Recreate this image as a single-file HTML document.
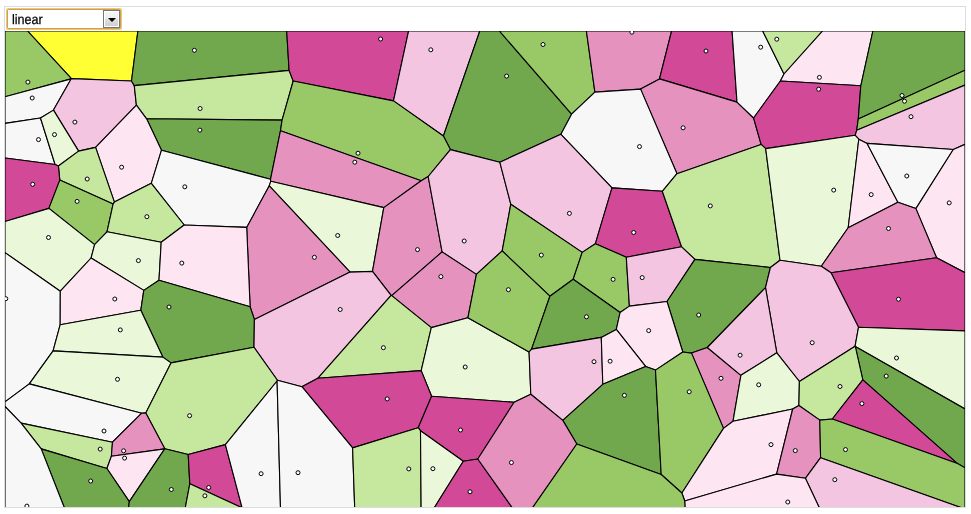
<!DOCTYPE html>
<html>
<head>
<meta charset="utf-8">
<title>Voronoi</title>
<style>
html,body{margin:0;padding:0;background:#fff;}
body{width:971px;height:514px;position:relative;overflow:hidden;font-family:"Liberation Sans",sans-serif;}
#frame{position:absolute;left:4px;top:6px;width:960px;height:500px;border:1px solid #dcdcdc;box-sizing:content-box;overflow:hidden;}
#sel{z-index:2;position:absolute;left:7px;top:9px;width:112px;height:18px;border:1px solid #cda057;border-radius:1.5px;box-shadow:0 0 0 1px #efc478;background:#fff;box-sizing:content-box;}
#sel span{position:absolute;left:4px;top:2px;font-size:13.7px;line-height:16px;color:#000;white-space:nowrap;transform:scaleX(0.92);transform-origin:0 0;text-rendering:geometricPrecision;-webkit-text-stroke:0.25px #000;}
#btn{position:absolute;left:95px;top:0px;width:15px;height:16px;border:1px solid #767676;background:linear-gradient(#f7f7f7 0%,#ececec 50%,#dedede 50%,#d0d0d0 100%);box-shadow:inset 0 0 0 1px #fff;}
#btn i{position:absolute;left:3.5px;top:6.7px;width:0;height:0;border-left:4px solid transparent;border-right:4px solid transparent;border-top:4.6px solid #000;}
svg{position:absolute;left:0px;top:24px;}
svg path{stroke:#000;stroke-width:1.1px;stroke-linejoin:round;}
svg circle{fill:#fff;stroke:#000;stroke-width:1px;}
</style>
</head>
<body>
<div id="sel"><span>linear</span><div id="btn"><i></i></div></div>
<div id="frame">
<svg width="960" height="500" viewBox="5 31 960 500">
<g>
<path fill="#ffff33" d="M131.5,81.0L71.4,78.6L27.5,31.0L137.9,31.0Z"/>
<path fill="#99c967" d="M5.0,96.8L71.1,78.9L71.4,78.6L27.5,31.0L5.0,31.0Z"/>
<path fill="#f7f7f7" d="M53.5,110.1L40.5,118.0L5.0,123.4L5.0,96.8L71.1,78.9Z"/>
<path fill="#f4c5e1" d="M134.3,85.6L136.4,105.1L95.6,147.4L78.6,151.1L53.5,110.1L71.1,78.9L71.4,78.6L131.5,81.0Z"/>
<path fill="#71a84d" d="M289.1,70.4L134.3,85.6L131.5,81.0L137.9,31.0L286.7,31.0Z"/>
<path fill="#c6e79e" d="M134.3,85.6L136.4,105.1L146.6,118.8L282.1,120.1L293.2,81.0L289.1,70.4Z"/>
<path fill="#71a84d" d="M270.5,179.3L161.5,150.2L146.6,118.8L282.1,120.1L280.5,130.7Z"/>
<path fill="#d14997" d="M286.7,31.0L408.6,31.0L393.5,100.9L293.2,81.0L289.1,70.4Z"/>
<path fill="#f4c5e1" d="M408.6,31.0L393.5,100.9L443.4,136.0L479.8,31.0Z"/>
<path fill="#71a84d" d="M571.6,114.2L560.9,134.3L499.8,162.2L450.4,149.6L443.4,136.0L479.8,31.0L499.4,31.0Z"/>
<path fill="#99c967" d="M586.4,31.0L499.4,31.0L571.6,114.2L594.9,92.1Z"/>
<path fill="#e592be" d="M659.5,78.9L640.6,89.1L594.9,92.1L586.4,31.0L671.6,31.0Z"/>
<path fill="#d14997" d="M737.0,102.1L659.5,78.9L671.6,31.0L732.1,31.0Z"/>
<path fill="#e592be" d="M659.5,78.9L737.0,102.1L753.6,118.0L761.1,144.4L677.0,173.7L640.6,89.1Z"/>
<path fill="#f7f7f7" d="M762.7,31.0L784.0,74.0L780.4,81.0L753.6,118.0L737.0,102.1L732.1,31.0Z"/>
<path fill="#c6e79e" d="M784.0,74.0L762.7,31.0L822.6,31.0Z"/>
<path fill="#fde6f2" d="M784.0,74.0L780.4,81.0L860.8,85.8L872.9,31.0L822.6,31.0Z"/>
<path fill="#d14997" d="M855.2,135.3L856.7,130.3L858.3,118.9L860.8,85.8L780.4,81.0L753.6,118.0L761.1,144.4L765.7,148.6Z"/>
<path fill="#71a84d" d="M872.9,31.0L860.8,85.8L858.3,118.9L965.0,70.2L965.0,31.0Z"/>
<path fill="#99c967" d="M965.0,85.1L856.7,130.3L858.3,118.9L965.0,70.2Z"/>
<path fill="#f4c5e1" d="M856.7,130.3L855.2,135.3L858.8,139.2L867.1,143.4L953.3,149.5L965.0,144.3L965.0,85.1Z"/>
<path fill="#f7f7f7" d="M40.5,118.0L5.0,123.4L5.0,158.0L55.1,164.5Z"/>
<path fill="#ebf7d9" d="M53.5,110.1L40.5,118.0L55.1,164.5L58.4,166.0L78.6,151.1Z"/>
<path fill="#fde6f2" d="M136.4,105.1L95.6,147.4L114.4,202.1L151.3,183.3L161.5,150.2L146.6,118.8Z"/>
<path fill="#c6e79e" d="M59.8,180.1L58.4,166.0L78.6,151.1L95.6,147.4L114.4,202.1L113.1,204.1Z"/>
<path fill="#d14997" d="M59.8,180.1L58.4,166.0L55.1,164.5L5.0,158.0L5.0,221.5L48.9,208.4Z"/>
<path fill="#99c967" d="M107.0,231.8L94.6,244.6L48.9,208.4L59.8,180.1L113.1,204.1Z"/>
<path fill="#f7f7f7" d="M270.5,179.3L270.8,181.2L269.3,185.8L246.7,227.4L184.2,225.0L151.3,183.3L161.5,150.2Z"/>
<path fill="#c6e79e" d="M113.1,204.1L107.0,231.8L161.2,242.2L184.2,225.0L151.3,183.3L114.4,202.1Z"/>
<path fill="#ebf7d9" d="M60.3,291.2L91.1,258.0L94.6,244.6L48.9,208.4L5.0,221.5L5.0,252.6Z"/>
<path fill="#99c967" d="M293.2,81.0L393.5,100.9L443.4,136.0L450.4,149.6L428.2,176.5L421.2,180.7L280.5,130.7L282.1,120.1Z"/>
<path fill="#e592be" d="M270.8,181.2L270.5,179.3L280.5,130.7L421.2,180.7L383.8,207.6Z"/>
<path fill="#ebf7d9" d="M269.3,185.8L350.1,272.1L372.5,271.4L383.8,207.6L270.8,181.2Z"/>
<path fill="#e592be" d="M254.4,319.4L250.1,306.8L246.7,227.4L269.3,185.8L350.1,272.1Z"/>
<path fill="#e592be" d="M391.1,295.4L391.7,295.6L442.1,251.9L428.2,176.5L421.2,180.7L383.8,207.6L372.5,271.4Z"/>
<path fill="#f4c5e1" d="M428.2,176.5L442.1,251.9L476.4,274.4L502.2,250.9L510.8,204.2L499.8,162.2L450.4,149.6Z"/>
<path fill="#f7f7f7" d="M677.0,173.7L640.6,89.1L594.9,92.1L571.6,114.2L560.9,134.3L612.0,187.9L662.3,191.3Z"/>
<path fill="#f4c5e1" d="M582.2,252.4L510.8,204.2L499.8,162.2L560.9,134.3L612.0,187.9L595.4,243.7Z"/>
<path fill="#d14997" d="M626.3,257.2L681.6,246.8L662.3,191.3L612.0,187.9L595.4,243.7Z"/>
<path fill="#c6e79e" d="M761.1,144.4L677.0,173.7L662.3,191.3L681.6,246.8L694.9,259.4L770.4,267.5L780.0,260.3L765.7,148.6Z"/>
<path fill="#99c967" d="M573.2,279.2L549.9,296.2L502.2,250.9L510.8,204.2L582.2,252.4Z"/>
<path fill="#ebf7d9" d="M821.3,266.2L848.2,227.7L858.8,139.2L855.2,135.3L765.7,148.6L780.0,260.3Z"/>
<path fill="#fde6f2" d="M867.1,143.4L897.9,202.3L848.2,227.7L858.8,139.2Z"/>
<path fill="#f7f7f7" d="M867.1,143.4L953.3,149.5L915.9,208.6L897.9,202.3Z"/>
<path fill="#fde6f2" d="M965.0,272.7L965.0,144.3L953.3,149.5L915.9,208.6L936.6,257.8Z"/>
<path fill="#e592be" d="M821.3,266.2L848.2,227.7L897.9,202.3L915.9,208.6L936.6,257.8L831.0,272.7Z"/>
<path fill="#ebf7d9" d="M91.1,258.0L143.8,290.4L159.0,280.3L161.2,242.2L107.0,231.8L94.6,244.6Z"/>
<path fill="#fde6f2" d="M246.7,227.4L250.1,306.8L159.0,280.3L161.2,242.2L184.2,225.0Z"/>
<path fill="#f7f7f7" d="M53.1,350.9L29.3,383.9L5.0,401.9L5.0,252.6L60.3,291.2L60.2,324.7Z"/>
<path fill="#fde6f2" d="M91.1,258.0L143.8,290.4L140.8,310.3L60.2,324.7L60.3,291.2Z"/>
<path fill="#71a84d" d="M162.8,357.1L171.0,362.9L254.0,347.2L254.4,319.4L250.1,306.8L159.0,280.3L143.8,290.4L140.8,310.3Z"/>
<path fill="#ebf7d9" d="M53.1,350.9L162.8,357.1L140.8,310.3L60.2,324.7Z"/>
<path fill="#ebf7d9" d="M171.0,362.9L162.8,357.1L53.1,350.9L29.3,383.9L141.7,413.2L145.8,412.9Z"/>
<path fill="#f4c5e1" d="M317.8,378.3L391.1,295.4L372.5,271.4L350.1,272.1L254.4,319.4L254.0,347.2L277.4,380.3L301.9,386.7Z"/>
<path fill="#e592be" d="M467.9,317.8L476.4,274.4L442.1,251.9L391.7,295.6L431.3,327.6Z"/>
<path fill="#c6e79e" d="M421.2,370.6L431.3,327.6L391.7,295.6L391.1,295.4L317.8,378.3Z"/>
<path fill="#ebf7d9" d="M421.2,370.6L431.3,327.6L467.9,317.8L529.1,352.0L530.8,394.2L514.1,402.3L431.6,396.2Z"/>
<path fill="#99c967" d="M502.2,250.9L549.9,296.2L531.6,349.1L529.1,352.0L467.9,317.8L476.4,274.4Z"/>
<path fill="#99c967" d="M582.2,252.4L573.2,279.2L620.1,312.5L629.4,306.1L626.3,257.2L595.4,243.7Z"/>
<path fill="#f4c5e1" d="M667.0,301.5L629.4,306.1L626.3,257.2L681.6,246.8L694.9,259.4Z"/>
<path fill="#71a84d" d="M573.2,279.2L620.1,312.5L616.3,329.4L601.3,337.4L531.6,349.1L549.9,296.2Z"/>
<path fill="#71a84d" d="M707.3,347.5L691.5,353.1L682.8,352.0L667.0,301.5L694.9,259.4L770.4,267.5L765.5,287.6Z"/>
<path fill="#fde6f2" d="M667.0,301.5L629.4,306.1L620.1,312.5L616.3,329.4L645.6,366.4L655.5,370.1L682.8,352.0Z"/>
<path fill="#f4c5e1" d="M529.1,352.0L531.6,349.1L601.3,337.4L602.8,384.3L562.8,420.4L530.8,394.2Z"/>
<path fill="#fde6f2" d="M616.3,329.4L645.6,366.4L602.8,384.3L601.3,337.4Z"/>
<path fill="#e592be" d="M740.9,375.3L707.3,347.5L691.5,353.1L723.5,428.4L733.0,421.3Z"/>
<path fill="#d14997" d="M965.0,272.7L936.6,257.8L831.0,272.7L858.5,327.3L965.0,330.9Z"/>
<path fill="#f4c5e1" d="M831.0,272.7L858.5,327.3L855.1,346.2L799.4,381.5L776.8,352.8L765.5,287.6L770.4,267.5L780.0,260.3L821.3,266.2Z"/>
<path fill="#f4c5e1" d="M765.5,287.6L707.3,347.5L740.9,375.3L776.8,352.8Z"/>
<path fill="#ebf7d9" d="M855.1,346.2L855.3,346.5L965.0,409.0L965.0,330.9L858.5,327.3Z"/>
<path fill="#71a84d" d="M965.0,409.0L965.0,467.8L957.5,463.6L862.8,379.9L855.3,346.5Z"/>
<path fill="#ebf7d9" d="M733.0,421.3L740.9,375.3L776.8,352.8L799.4,381.5L798.9,405.5L792.7,409.0Z"/>
<path fill="#c6e79e" d="M855.3,346.5L855.1,346.2L799.4,381.5L798.9,405.5L819.8,420.1L832.3,419.0L862.8,379.9Z"/>
<path fill="#c6e79e" d="M171.0,362.9L145.8,412.9L164.8,448.7L188.2,454.5L225.4,444.6L277.1,381.0L277.4,380.3L254.0,347.2Z"/>
<path fill="#f7f7f7" d="M5.0,401.9L5.0,406.5L21.1,423.1L112.5,442.2L141.7,413.2L29.3,383.9Z"/>
<path fill="#c6e79e" d="M111.4,456.2L106.9,468.5L41.2,448.9L21.1,423.1L112.5,442.2Z"/>
<path fill="#e592be" d="M112.5,442.2L111.4,456.2L164.7,448.9L164.8,448.7L145.8,412.9L141.7,413.2Z"/>
<path fill="#fde6f2" d="M129.3,501.6L106.9,468.5L111.4,456.2L164.7,448.9Z"/>
<path fill="#71a84d" d="M129.3,501.6L126.2,531.0L73.5,531.0L41.2,448.9L106.9,468.5Z"/>
<path fill="#71a84d" d="M129.3,501.6L126.2,531.0L180.9,531.0L189.8,483.8L188.2,454.5L164.8,448.7L164.7,448.9Z"/>
<path fill="#d14997" d="M242.1,507.8L225.4,444.6L188.2,454.5L189.8,483.8Z"/>
<path fill="#c6e79e" d="M251.2,531.0L242.1,507.8L189.8,483.8L180.9,531.0Z"/>
<path fill="#f7f7f7" d="M41.2,448.9L73.5,531.0L5.0,531.0L5.0,406.5L21.1,423.1Z"/>
<path fill="#d14997" d="M421.2,370.6L431.6,396.2L418.2,427.7L352.6,447.9L301.9,386.7L317.8,378.3Z"/>
<path fill="#d14997" d="M463.3,461.2L477.8,459.0L514.1,402.3L431.6,396.2L418.2,427.7L420.5,430.7Z"/>
<path fill="#f7f7f7" d="M251.2,531.0L242.1,507.8L225.4,444.6L277.1,381.0L281.1,531.0Z"/>
<path fill="#f7f7f7" d="M352.6,447.9L355.5,531.0L281.1,531.0L277.1,381.0L277.4,380.3L301.9,386.7Z"/>
<path fill="#c6e79e" d="M418.2,427.7L420.5,430.7L421.3,528.6L420.4,531.0L355.5,531.0L352.6,447.9Z"/>
<path fill="#ebf7d9" d="M421.3,528.6L420.5,430.7L463.3,461.2Z"/>
<path fill="#d14997" d="M520.9,531.0L522.5,522.2L477.8,459.0L463.3,461.2L421.3,528.6L420.4,531.0Z"/>
<path fill="#71a84d" d="M602.8,384.3L645.6,366.4L655.5,370.1L661.2,474.5L576.8,444.0L562.8,420.4Z"/>
<path fill="#99c967" d="M691.5,353.1L682.8,352.0L655.5,370.1L661.2,474.5L681.9,493.0L723.5,428.4Z"/>
<path fill="#e592be" d="M562.8,420.4L530.8,394.2L514.1,402.3L477.8,459.0L522.5,522.2L576.8,444.0Z"/>
<path fill="#d14997" d="M832.3,419.0L957.5,463.6L862.8,379.9Z"/>
<path fill="#fde6f2" d="M723.5,428.4L733.0,421.3L792.7,409.0L776.6,474.1L684.7,501.0L681.9,493.0Z"/>
<path fill="#e592be" d="M776.6,474.1L792.7,409.0L798.9,405.5L819.8,420.1L820.6,457.7L805.4,478.3Z"/>
<path fill="#99c967" d="M957.5,463.6L965.0,467.8L965.0,509.0L820.6,457.7L819.8,420.1L832.3,419.0Z"/>
<path fill="#f4c5e1" d="M965.0,531.0L965.0,509.0L820.6,457.7L805.4,478.3L830.3,531.0Z"/>
<path fill="#fde6f2" d="M830.3,531.0L805.4,478.3L776.6,474.1L684.7,501.0L686.1,531.0Z"/>
<path fill="#99c967" d="M686.1,531.0L520.9,531.0L522.5,522.2L576.8,444.0L661.2,474.5L681.9,493.0L684.7,501.0Z"/>
</g>
<g>
<circle cx="27.9" cy="82.1" r="2"/>
<circle cx="32.2" cy="98.0" r="2"/>
<circle cx="74.9" cy="122.1" r="2"/>
<circle cx="194.4" cy="50.3" r="2"/>
<circle cx="200.1" cy="108.5" r="2"/>
<circle cx="199.9" cy="130.1" r="2"/>
<circle cx="380.6" cy="39.0" r="2"/>
<circle cx="430.8" cy="49.8" r="2"/>
<circle cx="506.6" cy="76.1" r="2"/>
<circle cx="543.0" cy="44.5" r="2"/>
<circle cx="631.9" cy="32.2" r="2"/>
<circle cx="706.0" cy="51.0" r="2"/>
<circle cx="683.1" cy="127.8" r="2"/>
<circle cx="760.7" cy="47.2" r="2"/>
<circle cx="776.8" cy="39.2" r="2"/>
<circle cx="819.4" cy="77.4" r="2"/>
<circle cx="818.7" cy="89.2" r="2"/>
<circle cx="902.0" cy="95.5" r="2"/>
<circle cx="904.5" cy="101.2" r="2"/>
<circle cx="911.0" cy="116.7" r="2"/>
<circle cx="38.5" cy="139.6" r="2"/>
<circle cx="54.5" cy="134.6" r="2"/>
<circle cx="121.6" cy="167.2" r="2"/>
<circle cx="87.2" cy="179.0" r="2"/>
<circle cx="32.7" cy="184.3" r="2"/>
<circle cx="77.1" cy="201.4" r="2"/>
<circle cx="184.8" cy="186.8" r="2"/>
<circle cx="146.9" cy="216.7" r="2"/>
<circle cx="48.5" cy="237.5" r="2"/>
<circle cx="358.0" cy="153.2" r="2"/>
<circle cx="354.8" cy="162.2" r="2"/>
<circle cx="337.7" cy="235.5" r="2"/>
<circle cx="314.4" cy="257.3" r="2"/>
<circle cx="417.5" cy="249.6" r="2"/>
<circle cx="464.2" cy="241.0" r="2"/>
<circle cx="639.5" cy="146.6" r="2"/>
<circle cx="569.4" cy="213.4" r="2"/>
<circle cx="633.7" cy="232.5" r="2"/>
<circle cx="710.3" cy="205.9" r="2"/>
<circle cx="541.3" cy="255.1" r="2"/>
<circle cx="833.7" cy="190.1" r="2"/>
<circle cx="871.2" cy="194.6" r="2"/>
<circle cx="906.8" cy="176.0" r="2"/>
<circle cx="949.2" cy="202.9" r="2"/>
<circle cx="888.5" cy="228.5" r="2"/>
<circle cx="138.4" cy="260.6" r="2"/>
<circle cx="181.8" cy="263.1" r="2"/>
<circle cx="5.8" cy="298.7" r="2"/>
<circle cx="114.8" cy="299.0" r="2"/>
<circle cx="169.0" cy="307.0" r="2"/>
<circle cx="120.3" cy="329.9" r="2"/>
<circle cx="117.5" cy="379.3" r="2"/>
<circle cx="340.2" cy="309.5" r="2"/>
<circle cx="440.9" cy="276.6" r="2"/>
<circle cx="383.4" cy="347.7" r="2"/>
<circle cx="465.2" cy="367.0" r="2"/>
<circle cx="508.4" cy="289.7" r="2"/>
<circle cx="613.1" cy="279.4" r="2"/>
<circle cx="642.2" cy="277.6" r="2"/>
<circle cx="586.5" cy="316.8" r="2"/>
<circle cx="698.7" cy="315.0" r="2"/>
<circle cx="648.7" cy="330.6" r="2"/>
<circle cx="594.0" cy="361.7" r="2"/>
<circle cx="610.1" cy="361.2" r="2"/>
<circle cx="721.0" cy="378.3" r="2"/>
<circle cx="898.5" cy="299.2" r="2"/>
<circle cx="812.2" cy="342.7" r="2"/>
<circle cx="740.1" cy="355.2" r="2"/>
<circle cx="896.5" cy="358.0" r="2"/>
<circle cx="886.2" cy="376.1" r="2"/>
<circle cx="758.7" cy="384.8" r="2"/>
<circle cx="840.0" cy="386.5" r="2"/>
<circle cx="189.6" cy="415.7" r="2"/>
<circle cx="104.0" cy="431.0" r="2"/>
<circle cx="100.2" cy="449.1" r="2"/>
<circle cx="123.6" cy="450.8" r="2"/>
<circle cx="124.6" cy="458.1" r="2"/>
<circle cx="90.7" cy="481.0" r="2"/>
<circle cx="171.3" cy="489.5" r="2"/>
<circle cx="208.7" cy="487.5" r="2"/>
<circle cx="204.9" cy="495.8" r="2"/>
<circle cx="26.9" cy="506.1" r="2"/>
<circle cx="387.2" cy="398.9" r="2"/>
<circle cx="460.5" cy="430.0" r="2"/>
<circle cx="261.1" cy="473.7" r="2"/>
<circle cx="298.0" cy="472.7" r="2"/>
<circle cx="408.8" cy="468.9" r="2"/>
<circle cx="432.9" cy="468.7" r="2"/>
<circle cx="470.0" cy="491.8" r="2"/>
<circle cx="624.4" cy="395.3" r="2"/>
<circle cx="689.2" cy="391.8" r="2"/>
<circle cx="511.4" cy="462.6" r="2"/>
<circle cx="861.9" cy="403.6" r="2"/>
<circle cx="771.0" cy="444.6" r="2"/>
<circle cx="795.3" cy="450.6" r="2"/>
<circle cx="845.5" cy="449.6" r="2"/>
<circle cx="834.8" cy="479.7" r="2"/>
<circle cx="787.8" cy="502.0" r="2"/>
<circle cx="582.2" cy="511.8" r="2"/>
</g>
</svg>
</div>
</body>
</html>
